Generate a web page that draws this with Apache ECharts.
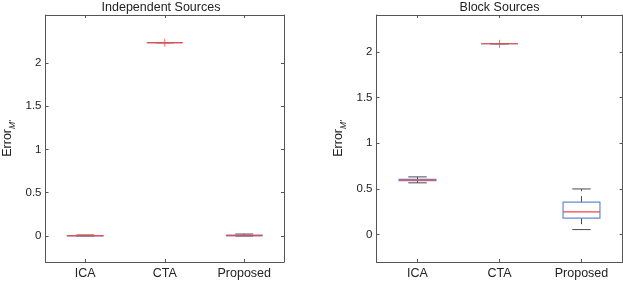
<!DOCTYPE html>
<html>
<head>
<meta charset="utf-8">
<script src="https://cdn.jsdelivr.net/npm/echarts@6/dist/echarts.min.js"></script>
<style>
html,body{margin:0;padding:0;background:#fff;}
#c{width:623px;height:282px;}
</style>
</head>
<body>
<div id="c"></div>
<script>
// ---- data ----
const categories = ['ICA', 'CTA', 'Proposed'];
const titles = ['Independent Sources', 'Block Sources'];
const yTicks = [0, 0.5, 1, 1.5, 2];
// box stats: [min, q1, median, q3, max]
const indepICA = [0.0, 0.002, 0.004, 0.006, 0.012];
const indepCTA = [2.233, 2.233, 2.233, 2.233, 2.233];
const indepProposed = [0.0, 0.003, 0.004, 0.01, 0.023];
const indepOutliers = [[1, 2.233]];
const blockICA = [0.567, 0.59, 0.597, 0.605, 0.632];
const blockCTA = [2.09, 2.09, 2.09, 2.09, 2.09];
const blockProposed = [0.055, 0.18, 0.249, 0.355, 0.50];
const blockOutliers = [[1, 2.09]];
const yMaxIndep = 2.553;
const yMaxBlock = 2.405;
const yMin = -0.3;

const frame = '#555555';
const boxColor = '#6688d4';
const medColor = '#ee4848';
const whiskColor = '#4a4a4a';
const fontFam = 'Liberation Sans, Arial, sans-serif';

function rows(a, b, c) {
  return [[0].concat(a), [1].concat(b), [2].concat(c)];
}

function renderBox(params, api) {
  const i = api.value(0);
  const vmin = api.value(1), q1 = api.value(2), med = api.value(3), q3 = api.value(4), vmax = api.value(5);
  const pMin = api.coord([i, vmin]), pQ1 = api.coord([i, q1]), pMed = api.coord([i, med]),
        pQ3 = api.coord([i, q3]), pMax = api.coord([i, vmax]);
  const bw = api.size([1, 0])[0] * 0.45;
  const cx = pMed[0];
  const cw = bw / 2;
  const children = [];
  const ws = { stroke: whiskColor, lineWidth: 1, lineDash: [6, 5] };
  const cs = { stroke: whiskColor, lineWidth: 1 };
  if (pMax[1] < pQ3[1] - 0.5) children.push({ type: 'line', shape: { x1: cx, y1: pQ3[1], x2: cx, y2: pMax[1] }, style: ws });
  if (pMin[1] > pQ1[1] + 0.5) children.push({ type: 'line', shape: { x1: cx, y1: pQ1[1], x2: cx, y2: pMin[1] }, style: ws });
  children.push({ type: 'line', shape: { x1: cx - cw / 2, y1: pMax[1], x2: cx + cw / 2, y2: pMax[1] }, style: cs });
  children.push({ type: 'line', shape: { x1: cx - cw / 2, y1: pMin[1], x2: cx + cw / 2, y2: pMin[1] }, style: cs });
  children.push({ type: 'rect', shape: { x: cx - bw / 2, y: pQ3[1], width: bw, height: Math.max(pQ1[1] - pQ3[1], 0) },
    style: { fill: 'none', stroke: boxColor, lineWidth: 1.2 } });
  children.push({ type: 'line', shape: { x1: cx - bw / 2, y1: pMed[1], x2: cx + bw / 2, y2: pMed[1] },
    style: { stroke: medColor, lineWidth: 1.2 } });
  return { type: 'group', children: children };
}

function axesFor(gi, yMax) {
  const tickStyle = { color: frame, width: 1 };
  const xs = [
    { type: 'category', gridIndex: gi, data: categories, position: 'bottom',
      axisLine: { show: true, onZero: false, lineStyle: tickStyle },
      axisTick: { show: true, inside: true, alignWithLabel: true, length: 3, lineStyle: tickStyle },
      axisLabel: { fontSize: 12.5, color: '#222', margin: 5, fontFamily: fontFam },
      splitLine: { show: false } },
    { type: 'category', gridIndex: gi, data: categories, position: 'top',
      axisLine: { show: true, onZero: false, lineStyle: tickStyle },
      axisTick: { show: true, inside: true, alignWithLabel: true, length: 3, lineStyle: tickStyle },
      axisLabel: { show: false }, splitLine: { show: false } }
  ];
  const ys = [
    { type: 'value', gridIndex: gi, min: yMin, max: yMax, position: 'left',
      name: '{a|Error}{b|M\'}', nameLocation: 'middle', nameGap: 28, nameRotate: 90,
      nameTextStyle: { rich: {
        a: { fontSize: 12.5, color: '#222', fontFamily: fontFam, lineHeight: 20, verticalAlign: 'middle' },
        b: { fontSize: 8.5, color: '#222', fontStyle: 'italic', fontFamily: fontFam, verticalAlign: 'bottom', lineHeight: 20 }
      } },
      axisLine: { show: true, onZero: false, lineStyle: tickStyle },
      axisTick: { show: true, inside: true, length: 3, lineStyle: tickStyle, customValues: yTicks },
      axisLabel: { fontSize: 11.5, color: '#222', margin: 4, customValues: yTicks, fontFamily: fontFam },
      splitLine: { show: false } },
    { type: 'value', gridIndex: gi, min: yMin, max: yMax, position: 'right',
      axisLine: { show: true, onZero: false, lineStyle: tickStyle },
      axisTick: { show: true, inside: true, length: 3, lineStyle: tickStyle, customValues: yTicks },
      axisLabel: { show: false }, splitLine: { show: false } }
  ];
  return { xs, ys };
}

const a0 = axesFor(0, yMaxIndep);
const a1 = axesFor(1, yMaxBlock);

const plusPath = 'path://M0,5L10,5M5,0L5,10';

const option = {
  animation: false,
  backgroundColor: '#ffffff',
  title: [
    { text: titles[0], left: 161, top: 1, textAlign: 'center', padding: 0,
      textStyle: { fontSize: 12.5, fontWeight: 'normal', color: '#222', fontFamily: fontFam } },
    { text: titles[1], left: 499.5, top: 1, textAlign: 'center', padding: 0,
      textStyle: { fontSize: 12.5, fontWeight: 'normal', color: '#222', fontFamily: fontFam } }
  ],
  grid: [
    { left: 38, top: 15, width: 246, height: 247 },
    { left: 376.5, top: 15, width: 246, height: 247 }
  ],
  xAxis: a0.xs.concat(a1.xs),
  yAxis: a0.ys.concat(a1.ys),
  series: [
    { type: 'custom', xAxisIndex: 0, yAxisIndex: 0, renderItem: renderBox,
      data: rows(indepICA, indepCTA, indepProposed), encode: { x: 0, y: [1, 2, 3, 4, 5] }, z: 2 },
    { type: 'scatter', xAxisIndex: 0, yAxisIndex: 0, data: indepOutliers, symbol: plusPath, symbolSize: 8,
      itemStyle: { color: 'none', borderColor: medColor, borderWidth: 1 }, z: 3 },
    { type: 'custom', xAxisIndex: 2, yAxisIndex: 2, renderItem: renderBox,
      data: rows(blockICA, blockCTA, blockProposed), encode: { x: 0, y: [1, 2, 3, 4, 5] }, z: 2 },
    { type: 'scatter', xAxisIndex: 2, yAxisIndex: 2, data: blockOutliers, symbol: plusPath, symbolSize: 8,
      itemStyle: { color: 'none', borderColor: medColor, borderWidth: 1 }, z: 3 }
  ]
};

const chart = echarts.init(document.getElementById('c'), null, { renderer: 'canvas' });
chart.setOption(option);
</script>
</body>
</html>
